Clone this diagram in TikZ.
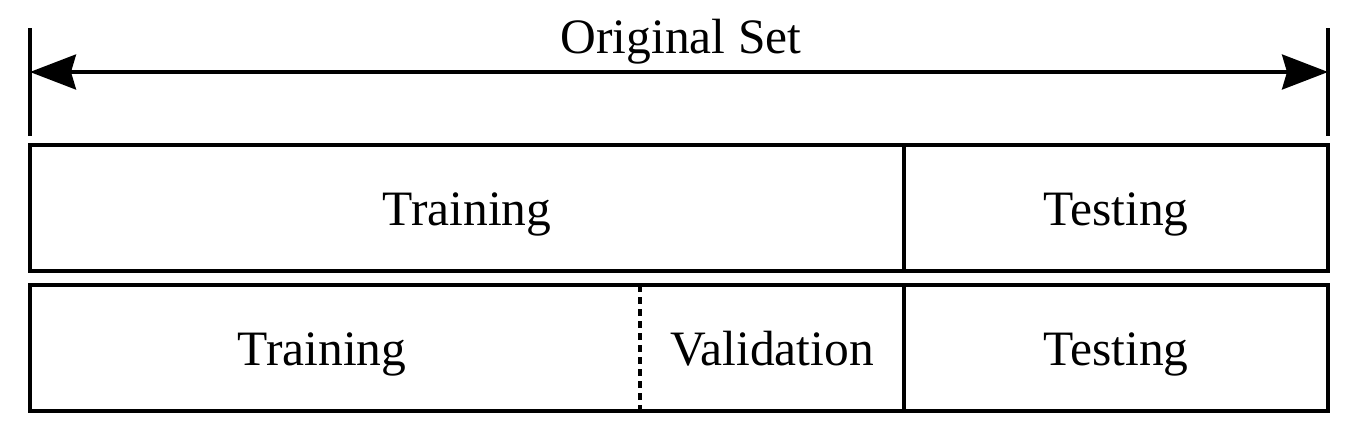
\documentclass[tikz,border=0pt]{standalone}
\usepackage{fontspec}
\setmainfont{Liberation Serif}
\usetikzlibrary{arrows.meta}
\begin{document}
\begin{tikzpicture}[x=1pt,y=-1pt,
  cell/.style={inner sep=0pt, outer sep=0pt, text height=40pt, text depth=6pt, font=\fontsize{49.5}{58}\selectfont},
  box/.style={draw, line width=3.2pt},
  tick/.style={line width=3.4pt},
  dim/.style={line width=3.2pt, {Stealth[length=46pt,width=35pt,inset=5pt]}-{Stealth[length=46pt,width=35pt,inset=5pt]}}]
\useasboundingbox (0,0) rectangle (1364,442);
% ticks
\coordinate (lt) at (30,28); \coordinate (lb) at (30,136);
\coordinate (rt) at (1328,28); \coordinate (rb) at (1328,136);
\coordinate (la) at (30,72); \coordinate (ra) at (1328,72);
\draw[tick] (lt) -- (lb);
\draw[tick] (rt) -- (rb);
\draw[dim] (la) -- (ra);
\node[cell] (orig) at (681,36) {Original Set};
% top row
\node[cell, minimum width=874pt, minimum height=126pt] (ttrain) at (467,208) {Training};
\node[cell, minimum width=424pt, minimum height=126pt] (ttest) at (1116,208) {Testing};
\draw[box] (ttrain.north west) rectangle (ttest.south east);
\draw[box] (ttest.north west) -- (ttest.south west);
% bottom row
\node[cell, minimum width=610pt, minimum height=126pt] (btrain) at (335,348) {\hspace{-26pt}Training};
\node[cell, minimum width=264pt, minimum height=126pt] (bval) at (772,348) {Validation};
\node[cell, minimum width=424pt, minimum height=126pt] (btest) at (1116,348) {Testing};
\draw[box] (btrain.north west) rectangle (btest.south east);
\draw[box] (btest.north west) -- (btest.south west);
\draw[line width=3.2pt, dash pattern=on 7pt off 5pt] (bval.north west) -- (bval.south west);
\end{tikzpicture}
\end{document}
